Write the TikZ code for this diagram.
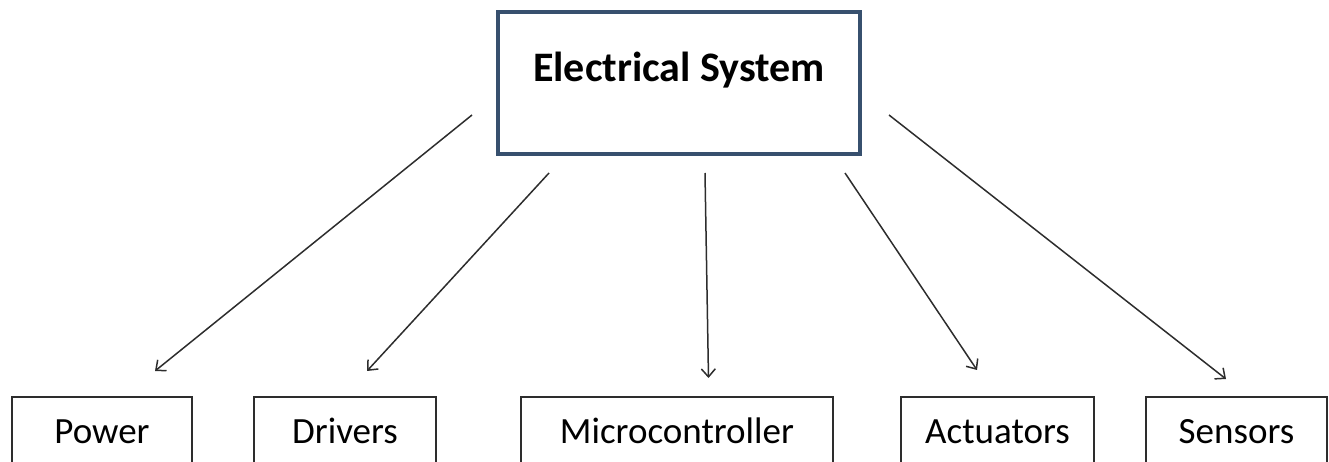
\documentclass[tikz,border=0pt]{standalone}
\usepackage{fontspec}
\setmainfont{Carlito}
\usetikzlibrary{arrows.meta, positioning}
\definecolor{slate}{RGB}{55, 80, 110}
\definecolor{charcoal}{RGB}{45, 45, 45}

\begin{document}
\begin{tikzpicture}[
            x=1pt, y=1pt,
            topbox/.style={draw=slate, line width=1.8pt, inner sep=0pt, outer sep=0pt, minimum width=181pt, text height=35pt, text depth=36pt, font=\fontsize{21}{25}\selectfont\bfseries},
            partbox/.style={draw=charcoal, line width=0.8pt, inner sep=0pt, outer sep=0pt, text height=23pt, text depth=23pt, font=\fontsize{18.5}{22}\selectfont},
            arrow/.style={-{Straight Barb[length=4pt, width=7pt]}, line width=0.75pt, charcoal}
        ]
            \useasboundingbox (0,0) rectangle (664.5,230.5);

            \node[topbox] (system) at (339.5,189) {Electrical System};

            \node[partbox, minimum width=90pt] (power) at (51,9) {Power};
            \node[partbox, minimum width=91pt, right=31pt of power] (drivers) {Drivers};
            \node[partbox, minimum width=156pt, right=42.5pt of drivers] (micro) {Microcontroller};
            \node[partbox, minimum width=96.5pt, right=34pt of micro] (actuators) {Actuators};
            \node[partbox, minimum width=90.5pt, right=26pt of actuators] (sensors) {Sensors};

            \coordinate (outPower) at (236,173);
            \coordinate (outDrivers) at (274.5,144);
            \coordinate (outMicro) at (352.5,144);
            \coordinate (outActuators) at (422.5,144);
            \coordinate (outSensors) at (444.5,173);

            \coordinate (inPower) at (77.5,45);
            \coordinate (inDrivers) at (183.5,45);
            \coordinate (inMicro) at (354.25,41.5);
            \coordinate (inActuators) at (488.5,45.5);
            \coordinate (inSensors) at (613,41);

            \draw[arrow] (outPower) -- (inPower);
            \draw[arrow] (outDrivers) -- (inDrivers);
            \draw[arrow] (outMicro) -- (inMicro);
            \draw[arrow] (outActuators) -- (inActuators);
            \draw[arrow] (outSensors) -- (inSensors);
        \end{tikzpicture}
\end{document}
